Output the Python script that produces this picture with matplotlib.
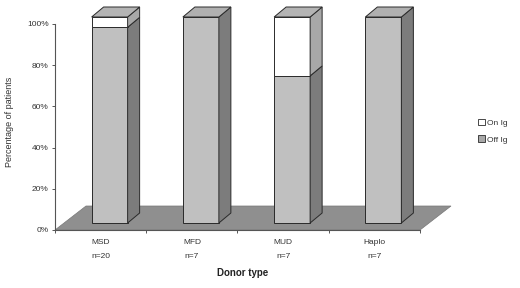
import matplotlib
matplotlib.use("Agg")
import matplotlib.pyplot as plt
from matplotlib.patches import Polygon, Patch

# ---- data ----
categories = ["MSD", "MFD", "MUD", "Haplo"]
n_patients = [20, 7, 7, 7]
off_ig = [95.0, 100.0, 71.4, 100.0]
on_ig = [5.0, 0.0, 28.6, 0.0]
y_ticks = [0, 20, 40, 60, 80, 100]
series_names = ["On Ig", "Off Ig"]

plt.rcParams['font.family'] = ['Liberation Sans', 'DejaVu Sans']
TXT = '#333333'

W, H = 520, 288
fig = plt.figure(figsize=(W / 100, H / 100), dpi=100)
ax = fig.add_axes([55 / W, 58 / H, 365 / W, 206 / H])
ax.set_xlim(-0.5, len(categories) - 0.5)
ax.set_ylim(0, 100)

# pixel -> data unit helpers
px_x = (365 / len(categories))  # pixels per category
px_y = 206 / 100.0              # pixels per percent
def dx(p):
    return p / px_x
def dy(p):
    return p / px_y

# floor
fdx, fdy = dx(31), dy(24)
x_lo, x_hi = -0.5, len(categories) - 0.5
floor = Polygon([(x_lo, 0), (x_hi, 0), (x_hi + fdx, fdy), (x_lo + fdx, fdy)],
                closed=True, facecolor='#8f8f8f', edgecolor='#777777',
                lw=0.5, clip_on=False, zorder=1)
ax.add_patch(floor)

# bars
bw = dx(36)
bdx, bdy = dx(9), dy(7)
sdx, sdy = dx(12), dy(10)
EC = '#2a2a2a'
LW = 0.7
styles = {
    'off': dict(front='#c0c0c0', side='#7c7c7c', top='#b0b0b0'),
    'on': dict(front='#ffffff', side='#a8a8a8', top='#b4b4b4'),
}

for i, cat in enumerate(categories):
    x0 = i - bw / 2 + bdx
    x1 = x0 + bw
    segs = [(0.0, off_ig[i], 'off'), (off_ig[i], off_ig[i] + on_ig[i], 'on')]
    top_style = 'off'
    for lo, hi, key in segs:
        if hi - lo <= 0:
            continue
        top_style = key
        st = styles[key]
        ylo, yhi = bdy + lo, bdy + hi
        front = Polygon([(x0, ylo), (x1, ylo), (x1, yhi), (x0, yhi)], closed=True,
                        facecolor=st['front'], edgecolor=EC, lw=LW,
                        clip_on=False, zorder=3)
        side = Polygon([(x1, ylo), (x1 + sdx, ylo + sdy), (x1 + sdx, yhi + sdy), (x1, yhi)],
                       closed=True, facecolor=st['side'], edgecolor=EC, lw=LW,
                       clip_on=False, zorder=3)
        ax.add_patch(front)
        ax.add_patch(side)
    total = off_ig[i] + on_ig[i]
    yt = bdy + total
    top = Polygon([(x0, yt), (x1, yt), (x1 + sdx, yt + sdy), (x0 + sdx, yt + sdy)],
                  closed=True, facecolor=styles[top_style]['top'], edgecolor=EC,
                  lw=LW, clip_on=False, zorder=3)
    ax.add_patch(top)

# axes styling
for s in ['top', 'right']:
    ax.spines[s].set_visible(False)
ax.spines['left'].set_color('#555555')
ax.spines['bottom'].set_color('#555555')
ax.spines['left'].set_linewidth(0.8)
ax.spines['bottom'].set_linewidth(0.8)
ax.spines['bottom'].set_zorder(2)

ax.set_yticks(y_ticks)
ax.set_yticklabels([f"{v}%" for v in y_ticks])
ax.tick_params(axis='y', direction='out', length=2.5, width=0.7, colors='#555555',
               labelcolor=TXT, labelsize=6, pad=2)

boundaries = [b - 0.5 for b in range(len(categories) + 1)]
ax.set_xticks(boundaries)
ax.set_xticklabels([])
ax.tick_params(axis='x', which='major', direction='out', length=2.5, width=0.7,
               colors='#555555')
ax.set_xticks(list(range(len(categories))), minor=True)
ax.set_xticklabels([f"{c}\n\nn={n}" for c, n in zip(categories, n_patients)],
                   minor=True, fontsize=6, color=TXT, linespacing=1.0)
ax.tick_params(axis='x', which='minor', length=0, pad=6.5)

fig.text(243 / W, 1 - 273 / H, "Donor type", ha='center', va='center',
         fontsize=7, fontweight='bold', color='#222222')
fig.text(10 / W, 1 - 122 / H, "Percentage of patients", ha='center', va='center',
         rotation=90, fontsize=6.5, color=TXT)

handles = [Patch(facecolor='#ffffff', edgecolor=EC, lw=0.6),
           Patch(facecolor='#a8a8a8', edgecolor=EC, lw=0.6)]
leg = fig.legend(handles, series_names, loc='upper left',
                 bbox_to_anchor=(478 / W, 1 - 119 / H), frameon=False,
                 fontsize=6, handlelength=0.8, handleheight=0.8,
                 handletextpad=0.3, labelspacing=1.0, borderpad=0, borderaxespad=0)
for t in leg.get_texts():
    t.set_color(TXT)

fig.savefig("out.png", dpi=100)
